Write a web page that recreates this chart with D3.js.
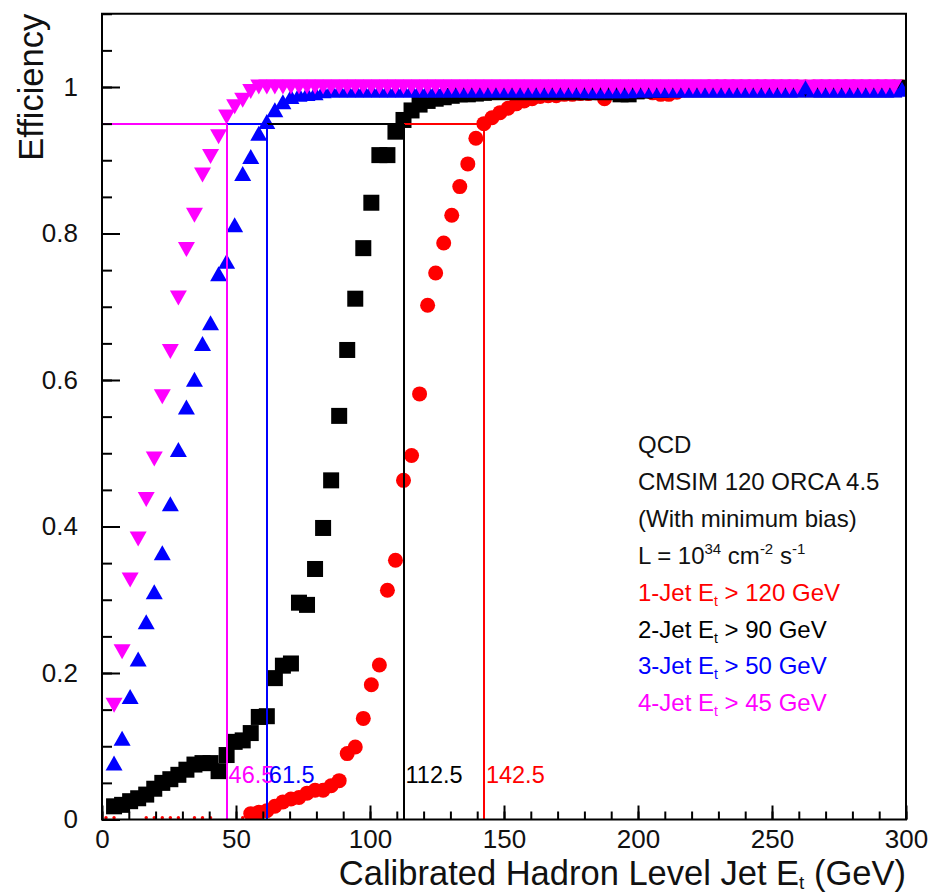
<!DOCTYPE html>
<html>
<head>
<meta charset="utf-8">
<script src="https://cdn.jsdelivr.net/npm/d3@7"></script>
<style>
  html, body { margin: 0; padding: 0; background: #ffffff; }
  svg { display: block; font-family: "Liberation Sans", Arial, Helvetica, sans-serif; }
</style>
</head>
<body>
<svg id="chart" width="932" height="895"></svg>
<script>
// Bin centres of the calibrated hadron-level jet Et histogram (GeV)
const etBins = [
  1.5, 4.5, 7.5, 10.5, 13.5, 16.5, 19.5, 22.5, 25.5, 28.5,
  31.5, 34.5, 37.5, 40.5, 43.5, 46.5, 49.5, 52.5, 55.5, 58.5,
  61.5, 64.5, 67.5, 70.5, 73.5, 76.5, 79.5, 82.5, 85.5, 88.5,
  91.5, 94.5, 97.5, 100.5, 103.5, 106.5, 109.5, 112.5, 115.5, 118.5,
  121.5, 124.5, 127.5, 130.5, 133.5, 136.5, 139.5, 142.5, 145.5, 148.5,
  151.5, 154.5, 157.5, 160.5, 163.5, 166.5, 169.5, 172.5, 175.5, 178.5,
  181.5, 184.5, 187.5, 190.5, 193.5, 196.5, 199.5, 202.5, 205.5, 208.5,
  211.5, 214.5, 217.5, 220.5, 223.5, 226.5, 229.5, 232.5, 235.5, 238.5,
  241.5, 244.5, 247.5, 250.5, 253.5, 256.5, 259.5, 262.5, 265.5, 268.5,
  271.5, 274.5, 277.5, 280.5, 283.5, 286.5, 289.5, 292.5, 295.5, 298.5
];

// Trigger efficiency per bin (null = empty bin)
const eff1Jet = [
  0, 0, null, null, null, 0, 0, 0, 0, 0,
  null, 0, 0, 0, null, null, null, 0, 0.008, 0.010,
  0.012, 0.018, 0.024, 0.028, 0.030, 0.036, 0.040, 0.040, 0.046, 0.053,
  0.090, 0.099, 0.138, 0.184, 0.211, 0.313, 0.354, 0.463, 0.497, 0.581,
  0.702, 0.746, 0.787, 0.825, 0.864, 0.895, 0.930, 0.950, 0.958, 0.965,
  0.971, 0.977, 0.981, 0.984, 0.987, 0.988, 0.988, 0.990, 0.990, 0.991,
  0.991, 0.992, 0.984, 0.993, 0.995, 0.996, 0.996, 0.995, 0.992, 0.990,
  0.990, 0.993, 0.998, 0.998, 0.999, 1.000, 1.000, 1.000, 1.000, 1.000,
  1.000, 1.000, 1.000, 1.000, 1.000, 1.000, 1.000, 1.000, 1.000, 1.000,
  1.000, 1.000, 1.000, 1.000, 1.000, 1.000, 1.000, 1.000, 1.000, 1.000
];
const eff2Jet = [
  null, 0.018, 0.020, 0.025, 0.029, 0.034, 0.042, 0.050, 0.055, 0.061,
  0.068, 0.075, 0.077, 0.077, 0.066, 0.088, 0.106, 0.108, 0.118, 0.140,
  0.141, 0.193, 0.210, 0.213, 0.296, 0.293, 0.342, 0.398, 0.463, 0.551,
  0.641, 0.711, 0.780, 0.842, 0.907, 0.907, 0.939, 0.955, 0.968, 0.976,
  0.981, 0.984, 0.986, 0.988, 0.990, 0.990, 0.991, 0.992, 0.993, 0.993,
  0.993, 0.993, 0.993, 0.993, 0.993, 0.993, 0.993, 0.993, 0.993, 0.993,
  0.993, 0.993, 0.993, 0.993, 0.990, 0.990, 0.994, 0.995, 0.996, 0.996,
  0.997, 0.997, 0.997, 0.997, 0.997, 0.997, 0.997, 0.997, 0.997, 0.997,
  0.997, 0.997, 0.997, 0.997, 0.997, 0.997, 0.997, 0.997, 0.997, 0.997,
  0.997, 0.997, 0.997, 0.997, 0.997, 0.997, 0.997, 0.997, 0.997, 0.999
];
const eff3Jet = [
  null, 0.077, 0.111, 0.168, 0.219, 0.270, 0.311, 0.364, 0.431, 0.505,
  0.563, 0.601, 0.650, 0.678, 0.745, 0.762, 0.812, 0.882, 0.905, 0.937,
  0.953, 0.969, 0.980, 0.987, 0.990, 0.991, 0.992, 0.995, 0.996, 0.996,
  0.996, 0.996, 0.996, 0.996, 0.996, 0.996, 0.996, 0.996, 0.996, 0.996,
  0.996, 0.996, 0.996, 0.996, 0.996, 0.996, 0.996, 0.996, 0.996, 0.996,
  0.996, 0.996, 0.996, 0.996, 0.996, 0.996, 0.996, 0.996, 0.996, 0.996,
  0.995, 0.995, 0.995, 0.995, 0.995, 0.995, 0.996, 0.996, 0.996, 0.996,
  0.996, 0.996, 0.996, 0.996, 0.996, 0.996, 0.996, 0.996, 0.996, 0.996,
  0.996, 0.996, 0.996, 0.996, 0.996, 0.996, 0.996, 1.000, 0.996, 0.996,
  0.996, 0.996, 0.996, 0.996, 0.996, 0.996, 0.996, 0.996, 0.996, 0.997
];
const eff4Jet = [
  null, 0.156, 0.229, 0.327, 0.383, 0.437, 0.492, 0.577, 0.639, 0.712,
  0.778, 0.825, 0.880, 0.905, 0.932, 0.959, 0.973, 0.982, 0.994, 1.000,
  1.000, 1.000, 1.000, 1.000, 1.000, 1.000, 1.000, 1.000, 1.000, 1.000,
  1.000, 1.000, 1.000, 1.000, 1.000, 1.000, 1.000, 1.000, 1.000, 1.000,
  1.000, 1.000, 1.000, 1.000, 1.000, 1.000, 1.000, 1.000, 1.000, 1.000,
  1.000, 1.000, 1.000, 1.000, 1.000, 1.000, 1.000, 1.000, 1.000, 1.000,
  1.000, 1.000, 1.000, 1.000, 1.000, 1.000, 1.000, 1.000, 1.000, 1.000,
  1.000, 1.000, 1.000, 1.000, 1.000, 1.000, 1.000, 1.000, 1.000, 1.000,
  1.000, 1.000, 1.000, 1.000, 1.000, 1.000, 1.000, null, 1.000, 1.000,
  1.000, 1.000, 1.000, 1.000, 1.000, 1.000, 1.000, 1.000, 1.000, null
];

// Trigger definitions, drawn in this order (1-jet first, 4-jet on top)
const triggerNames = ["1-Jet", "2-Jet", "3-Jet", "4-Jet"];
const triggerCuts = [120, 90, 50, 45];
const triggerColors = ["#ff0000", "#000000", "#0000ff", "#ff00ff"];
const triggerMarkers = ["circle", "square", "triangleUp", "triangleDown"];
const triggerEff = [eff1Jet, eff2Jet, eff3Jet, eff4Jet];
// Et at which each trigger reaches the 95% plateau
const thresholds = [142.5, 112.5, 61.5, 46.5];
const plateauLevel = 0.95;

const infoLines = ["QCD", "CMSIM 120 ORCA 4.5", "(With minimum bias)"];

const xTickValues = [0, 50, 100, 150, 200, 250, 300];
const yTickValues = [0, 0.2, 0.4, 0.6, 0.8, 1];
const xTitle = "Calibrated Hadron Level Jet E";
const yTitle = "Efficiency";

// ---- layout ----
const svg = d3.select("#chart");
const frame = { left: 102, right: 906, top: 13.75, bottom: 819.5 };

const x = d3.scaleLinear().domain([0, 300]).range([frame.left, frame.right]);
const y = d3.scaleLinear().domain([0, 1.1]).range([frame.bottom, frame.top]);

svg.append("defs").append("clipPath").attr("id", "plotClip")
  .append("rect")
  .attr("x", frame.left).attr("y", frame.top)
  .attr("width", frame.right - frame.left)
  .attr("height", frame.bottom - frame.top);

const plot = svg.append("g").attr("clip-path", "url(#plotClip)");

// ---- markers ----
const markerPath = {
  triangleUp: "M0,-7.5L8.5,7.5L-8.5,7.5Z",
  triangleDown: "M0,7.5L8.5,-7.5L-8.5,-7.5Z"
};

triggerEff.forEach((eff, k) => {
  const pts = etBins.map((et, i) => ({ et, v: eff[i] })).filter(d => d.v !== null);
  const g = plot.append("g").attr("fill", triggerColors[k]);
  const kind = triggerMarkers[k];
  pts.forEach(d => {
    const cx = x(d.et), cy = y(d.v);
    if (d.v === 0) {
      // empty-efficiency bins show as a small dot on the axis
      g.append("circle").attr("cx", cx).attr("cy", cy - 1.8).attr("r", 1.7);
    } else if (kind === "circle") {
      g.append("circle").attr("cx", cx).attr("cy", cy).attr("r", 7.5);
    } else if (kind === "square") {
      g.append("rect").attr("x", cx - 8).attr("y", cy - 8).attr("width", 16).attr("height", 16);
    } else {
      g.append("path").attr("d", markerPath[kind]).attr("transform", `translate(${cx},${cy})`);
    }
  });
});

// ---- 95% plateau lines ----
const lines = svg.append("g")
  .attr("fill", "none").attr("stroke-width", 2)
  .attr("shape-rendering", "crispEdges");
thresholds.forEach((t, k) => {
  lines.append("line")
    .attr("x1", x(0)).attr("x2", x(t))
    .attr("y1", y(plateauLevel)).attr("y2", y(plateauLevel))
    .attr("stroke", triggerColors[k]);
});
thresholds.forEach((t, k) => {
  lines.append("line")
    .attr("x1", x(t)).attr("x2", x(t))
    .attr("y1", y(0)).attr("y2", y(plateauLevel))
    .attr("stroke", triggerColors[k]);
});

// threshold values next to the vertical lines
const thrLabels = svg.append("g").attr("font-size", 23.5);
[3, 2, 1, 0].forEach(k => {
  thrLabels.append("text")
    .attr("x", x(thresholds[k]) + 2)
    .attr("y", 783)
    .attr("fill", triggerColors[k])
    .text(d3.format(".1f")(thresholds[k]));
});

// ---- frame ----
svg.append("rect")
  .attr("x", frame.left).attr("y", frame.top)
  .attr("width", frame.right - frame.left)
  .attr("height", frame.bottom - frame.top)
  .attr("fill", "none").attr("stroke", "#000").attr("stroke-width", 2);

// ---- axes ----
function styleAxis(g) {
  g.select(".domain").remove();
  g.selectAll(".tick line").attr("stroke", "#000").attr("stroke-width", 2);
  g.selectAll(".tick text")
    .attr("fill", "#111")
    .attr("font-size", 26)
    .attr("font-family", "'Liberation Sans', Arial, sans-serif");
}

svg.append("g")
  .attr("transform", `translate(0,${frame.bottom})`)
  .call(d3.axisBottom(x).tickValues(d3.range(0, 301, 10)).tickSize(-8).tickFormat(() => ""))
  .call(styleAxis);
svg.append("g")
  .attr("transform", `translate(0,${frame.bottom})`)
  .call(d3.axisBottom(x).tickValues(xTickValues).tickSize(-14).tickPadding(10).tickFormat(d3.format("d")))
  .call(styleAxis);

svg.append("g")
  .attr("transform", `translate(${frame.left},0)`)
  .call(d3.axisLeft(y).tickValues(d3.range(0, 1.1001, 0.05)).tickSize(-10).tickFormat(() => ""))
  .call(styleAxis);
svg.append("g")
  .attr("transform", `translate(${frame.left},0)`)
  .call(d3.axisLeft(y).tickValues(yTickValues).tickSize(-18).tickPadding(24).tickFormat(d3.format("~g")))
  .call(styleAxis);

// ---- axis titles ----
const xt = svg.append("text")
  .attr("x", frame.right).attr("y", 885)
  .attr("text-anchor", "end")
  .attr("font-size", 34.5).attr("fill", "#111");
xt.append("tspan").text(xTitle);
xt.append("tspan").attr("font-size", 19).attr("dy", 4).text("t");
xt.append("tspan").attr("dy", -4).text(" (GeV)");

svg.append("text")
  .attr("transform", `translate(43,${frame.top}) rotate(-90)`)
  .attr("text-anchor", "end")
  .attr("font-size", 34.5).attr("fill", "#111")
  .text(yTitle);

// ---- legend / run information ----
const legX = 638, legY0 = 453, legStep = 36.9;
const leg = svg.append("g").attr("font-size", 24);
infoLines.forEach((s, i) => {
  leg.append("text").attr("x", legX).attr("y", legY0 + i * legStep).attr("fill", "#111").text(s);
});
const lumi = leg.append("text").attr("x", legX).attr("y", legY0 + 3 * legStep).attr("fill", "#111");
lumi.append("tspan").text("L = 10");
lumi.append("tspan").attr("font-size", 15).attr("dy", -10).text("34");
lumi.append("tspan").attr("dy", 10).text(" cm");
lumi.append("tspan").attr("font-size", 15).attr("dy", -10).text("-2");
lumi.append("tspan").attr("dy", 10).text(" s");
lumi.append("tspan").attr("font-size", 15).attr("dy", -10).text("-1");

triggerNames.forEach((n, k) => {
  const t = leg.append("text")
    .attr("x", legX).attr("y", legY0 + (4 + k) * legStep)
    .attr("fill", triggerColors[k]);
  t.append("tspan").text(`${n} E`);
  t.append("tspan").attr("font-size", 14).attr("dy", 5).text("t");
  t.append("tspan").attr("dy", -5).text(` > ${triggerCuts[k]} GeV`);
});
</script>
</body>
</html>
